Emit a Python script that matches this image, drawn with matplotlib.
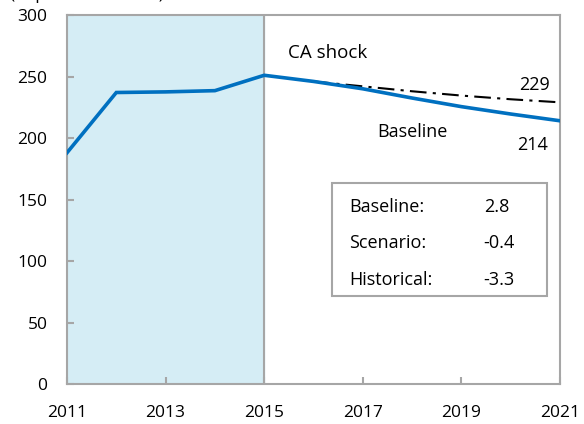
import matplotlib.pyplot as plt
from matplotlib.patches import Rectangle

plt.rcParams['font.family'] = ['Open Sans', 'DejaVu Sans']

# Series (in percent of GDP)
hist_years = [2011, 2012, 2013, 2014, 2015]
hist_vals = [188, 237, 237.5, 238.5, 251]
base_years = [2015, 2016, 2017, 2018, 2019, 2020, 2021]
base_vals = [251, 246, 240, 232.5, 225.5, 219.5, 214]
shock_years = [2016, 2017, 2018, 2019, 2020, 2021]
shock_vals = [246, 242, 238, 234.5, 231.5, 229]

box_labels = ["Baseline:", "Scenario:", "Historical:"]
box_values = ["2.8", "-0.4", "-3.3"]

blue = "#0070c0"
gray = "#a6a6a6"

fig = plt.figure(figsize=(5.84, 4.24), dpi=100)
ax = fig.add_axes([0.1147, 0.0943, 0.8443, 0.8703])

ax.axvspan(2011, 2015, color="#d5edf5", zorder=0)
ax.axvline(2015, color=gray, lw=1.5, zorder=1)

ax.plot(shock_years, shock_vals, color="black", lw=1.5, ls=(0, (8, 3, 1.5, 3)), zorder=2)
ax.plot(hist_years + base_years[1:], hist_vals + base_vals[1:], color=blue, lw=2.6,
        solid_joinstyle="miter", zorder=3)

ax.set_xlim(2011, 2021)
ax.set_ylim(0, 300)
ax.set_xticks(range(2011, 2022, 2))
ax.set_yticks(range(0, 301, 50))
ax.tick_params(direction="in", length=5, width=1.5, color=gray, labelsize=12.5, pad=14)
ax.tick_params(axis="x", pad=15)
for s in ax.spines.values():
    s.set_color(gray)
    s.set_linewidth(1.5)

ax.text(2015.48, 269, "CA shock", fontsize=13.5, va="center")
ax.text(2020.8, 243, "229", fontsize=13, va="center", ha="right")
ax.text(2017.29, 205, "Baseline", fontsize=13, va="center")
ax.text(2020.75, 194, "214", fontsize=13, va="center", ha="right")

ax.add_patch(Rectangle((2016.38, 71.5), 4.36, 92, fill=False, edgecolor=gray, lw=1.5, zorder=4))
for lab, val, y in zip(box_labels, box_values, [144, 114.6, 84.6]):
    ax.text(2016.72, y, lab, fontsize=13, va="center", zorder=5)
    ax.text(2019.45, y, val, fontsize=13, va="center", zorder=5)

fig.text(0.017, 1.003, "(In percent of GDP)", fontsize=12.5, va="baseline", ha="left")

fig.savefig("out.png", dpi=100)
